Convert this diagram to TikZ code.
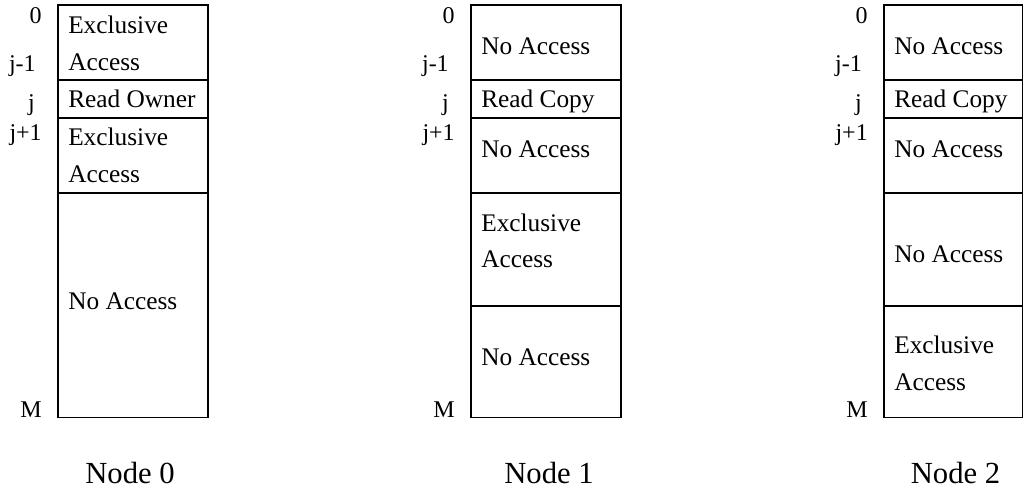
\documentclass[tikz,border=0pt]{standalone}
\usepackage{fontspec}
\setmainfont{Liberation Serif}

\begin{document}
\begin{tikzpicture}[x=0.75pt,y=0.75pt,yscale=-1,xscale=1,
  cell/.style={anchor=base west,inner sep=0pt,font=\fontsize{19}{23}\selectfont},
  idx/.style={anchor=base east,inner sep=0pt,font=\fontsize{18}{22}\selectfont},
  caption/.style={anchor=base,inner sep=0pt,font=\fontsize{23}{28}\selectfont},
  frame/.style={line width=1pt}]
%set diagram left start at 0, and has height of 491
\useasboundingbox (0,0) rectangle (1023,491);

%Shape: Rectangle [Node 0]
\draw [frame] (58,5) rectangle (208,417.5);
%Straight Lines
\draw [frame] (58,80) -- (208,80);
\draw [frame] (58,118) -- (208,118);
\draw [frame] (58,193) -- (208,193);

%Shape: Rectangle [Node 1]
\draw [frame] (471,5) rectangle (621,417.5);
%Straight Lines
\draw [frame] (471,80) -- (621,80);
\draw [frame] (471,118) -- (621,118);
\draw [frame] (471,193) -- (621,193);
\draw [frame] (471,306) -- (621,306);

%Shape: Rectangle [Node 2]
\draw [frame] (884,5) rectangle (1022.3,417.5);
%Straight Lines
\draw [frame] (884,80) -- (1022.3,80);
\draw [frame] (884,118) -- (1022.3,118);
\draw [frame] (884,193) -- (1022.3,193);
\draw [frame] (884,306) -- (1022.3,306);

% Text Node
\draw (68,34) node (zexa) [cell] {Exclusive};
\draw (68,71) node (zexb) [cell] {Access};
\draw (68,108) node (zown) [cell] {Read Owner};
\draw (68,145.5) node (zexc) [cell] {Exclusive};
\draw (68,183) node (zexd) [cell] {Access};
\draw (68,310) node (zno) [cell] {No Access};

% Text Node
\draw (481,55) node (ona) [cell] {No Access};
\draw (481,108) node (ocp) [cell] {Read Copy};
\draw (481,157.5) node (onb) [cell] {No Access};
\draw (481,231.5) node (oexa) [cell] {Exclusive};
\draw (481,268) node (oexb) [cell] {Access};
\draw (481,365.5) node (onc) [cell] {No Access};

% Text Node
\draw (894,55) node (tna) [cell] {No Access};
\draw (894,108) node (tcp) [cell] {Read Copy};
\draw (894,157.5) node (tnb) [cell] {No Access};
\draw (894,262.5) node (tnc) [cell] {No Access};
\draw (894,353) node (texa) [cell] {Exclusive};
\draw (894,390) node (texb) [cell] {Access};

% Text Node
\draw (42,23.5) node (zi0) [idx] {0};
\draw (36,72) node (zi1) [idx] {j-1};
\draw (35,110.5) node (zi2) [idx] {j};
\draw (42,141) node (zi3) [idx] {j+1};
\draw (42,417) node (zi4) [idx] {M};

% Text Node
\draw (455,23.5) node (oi0) [idx] {0};
\draw (449,72) node (oi1) [idx] {j-1};
\draw (449,110.5) node (oi2) [idx] {j};
\draw (455,141) node (oi3) [idx] {j+1};
\draw (455,417) node (oi4) [idx] {M};

% Text Node
\draw (868,23.5) node (ti0) [idx] {0};
\draw (862,72) node (ti1) [idx] {j-1};
\draw (862,110.5) node (ti2) [idx] {j};
\draw (868,141) node (ti3) [idx] {j+1};
\draw (868,417) node (ti4) [idx] {M};

% Text Node
\draw (130,483) node (zcap) [caption] {Node 0};
\draw (549,483) node (ocap) [caption] {Node 1};
\draw (955.5,483) node (tcap) [caption] {Node 2};

\end{tikzpicture}
\end{document}
